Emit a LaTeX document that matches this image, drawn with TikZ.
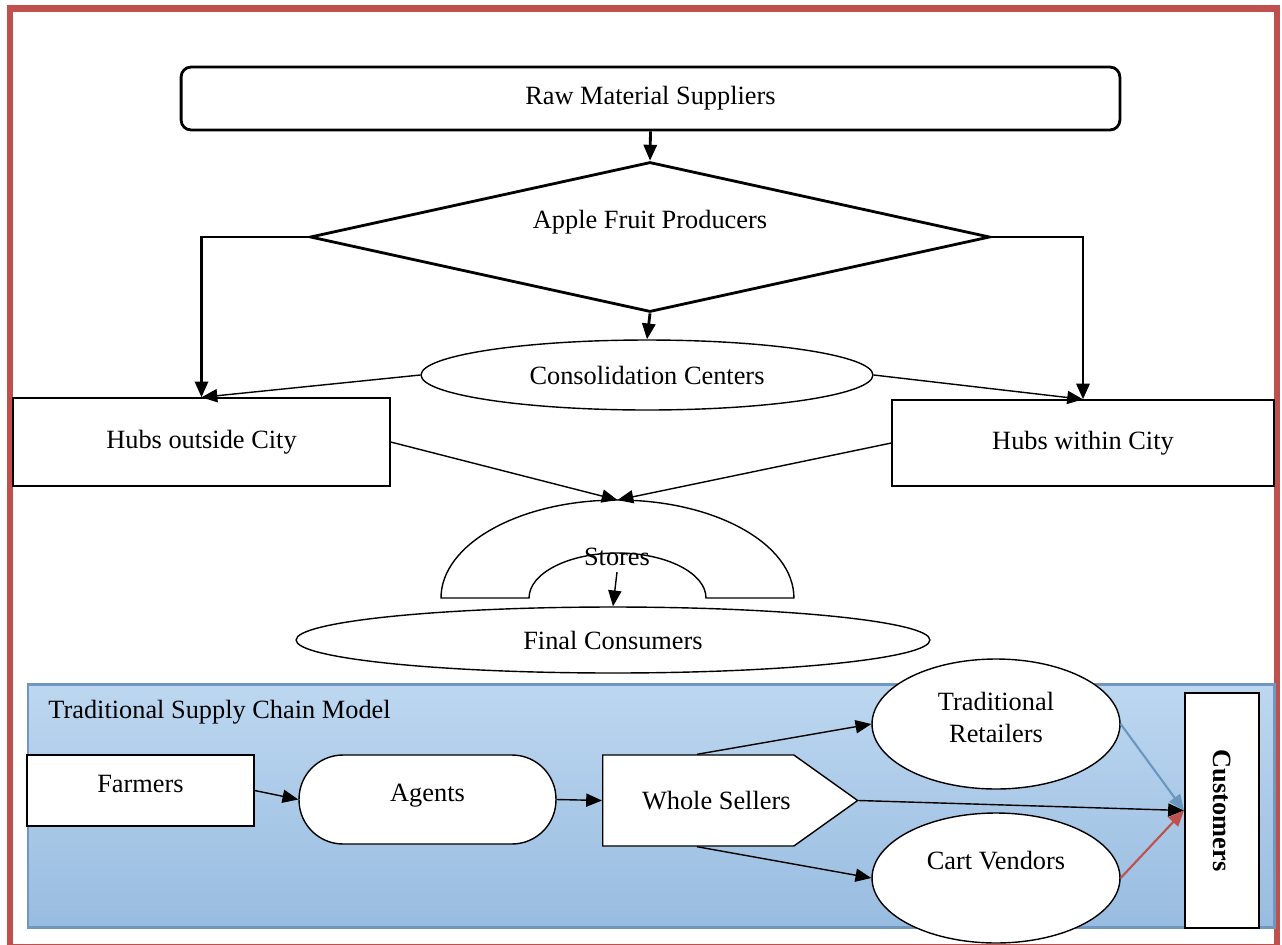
\documentclass[tikz,border=0pt]{standalone}
\usepackage{fontspec}
\setmainfont{Liberation Serif}
\usetikzlibrary{arrows.meta,calc,shapes.geometric,shapes.symbols,positioning}
\definecolor{FrameRed}{HTML}{C0504D}
\definecolor{PanelEdge}{HTML}{6F97C0}
\definecolor{PanelTop}{HTML}{BDD7F0}
\definecolor{PanelBottom}{HTML}{98BCE0}
\definecolor{RetailBlue}{HTML}{6A97BE}

\begin{document}
\begin{tikzpicture}[
    x=0.02cm,y=-0.02cm,
    >={Triangle[length=9pt,width=7.5pt]},
    every node/.style={font=\fontsize{15}{18}\selectfont},
    box/.style={draw,line width=0.8pt,fill=white,inner sep=2pt},
    oval/.style={draw,ellipse,line width=0.8pt,fill=white,inner sep=0pt},
    flow/.style={->,line width=0.8pt},
    mainflow/.style={->,line width=1.6pt}
  ]
  \clip (0,0) rectangle (1282,944);
  \draw[FrameRed,line width=0.13cm] (10,8.5) rectangle (1277,947);

  \node[box,rounded corners=0.2cm,line width=1.6pt,minimum width=18.78cm,minimum height=1.26cm]
    (rms) at (650.5,98.5) {Raw Material Suppliers};
  \node[diamond,draw,line width=1.6pt,minimum width=13.6cm,minimum height=3cm,inner sep=0pt,
    label={[yshift=0.3cm]center:Apple Fruit Producers}] (apf) at (650,237) {};
  \node[oval,minimum width=9.04cm,minimum height=1.4cm] (cc) at (647,375) {Consolidation Centers};
  \node[box,minimum width=7.54cm,minimum height=1.76cm] (hout) at (201.5,442) {Hubs outside City};
  \node[box,minimum width=7.64cm,minimum height=1.72cm] (hin) at (1083,443) {Hubs within City};

  \draw[line width=0.8pt] (441,598) arc[start angle=180,end angle=0,x radius=3.53cm,y radius=1.96cm]
    -- (706,598) arc[start angle=0,end angle=180,x radius=1.77cm,y radius=0.9cm] -- cycle;
  \coordinate (storetop) at (617.5,500);
  \node (stores) at (617,557) {Stores};
  \node[oval,minimum width=12.68cm,minimum height=1.32cm] (fc) at (613,640) {Final Consumers};

  \draw[mainflow] (rms.south) -- (apf.north);
  \draw[mainflow] (apf.west) -| (hout.north);
  \draw[mainflow] (apf.east) -| (hin.north);
  \draw[mainflow] (apf.south) -- (cc.north);
  \draw[flow] (cc.west) -- (hout.north);
  \draw[flow] (cc.east) -- (hin.north);
  \draw[flow] (hout.east) -- (storetop);
  \draw[flow] (hin.west) -- (storetop);
  \draw[flow] (stores.south) -- (fc.north);

  \draw[PanelEdge,line width=0.06cm,top color=PanelTop,bottom color=PanelBottom]
    (28,684) rectangle (1274,927);
  \node[anchor=west,inner sep=0pt] (tscm) at (48,712) {Traditional Supply Chain Model};
  \node[box,minimum width=4.54cm,minimum height=1.42cm,
    label={[yshift=0.14cm]center:Farmers}] (farm) at (140.5,790.5) {};
  \node[box,rounded corners=0.88cm,minimum width=5.14cm,minimum height=1.78cm,
    label={[yshift=0.08cm]center:Agents}] (agent) at (427.5,799.5) {};
  \node[box,signal,signal to=east,signal pointer angle=71,minimum width=5.1cm,minimum height=1.82cm,
    anchor=west,label={[xshift=0.36cm]center:Whole Sellers}] (ws) at (602,800.5) {};
  \node[oval,minimum width=4.96cm,minimum height=2.6cm,
    label={[yshift=0.13cm,align=center]center:Traditional\\Retailers}] (tr) at (996,724) {};
  \node[oval,minimum width=4.96cm,minimum height=2.6cm,
    label={[yshift=0.34cm]center:Cart Vendors}] (cv) at (996,878) {};
  \node[box,line width=1.2pt,minimum width=1.48cm,minimum height=4.7cm] (cust) at (1222,810.5)
    {\rotatebox{-90}{\bfseries Customers}};

  \draw[flow] (farm.east) -- (agent.west);
  \draw[flow] (agent.east) -- (ws.west);
  \draw[flow] ($(ws.west |- ws.north)+(95,0)$) -- (tr.west);
  \draw[flow] ($(ws.west |- ws.south)+(95,0)$) -- (cv.west);
  \draw[flow] (ws.east) -- (cust.west);
  \draw[flow,RetailBlue,line width=1.2pt] (tr.east) -- (cust.west);
  \draw[flow,FrameRed,line width=1.2pt] (cv.east) -- (cust.west);
\end{tikzpicture}
\end{document}
